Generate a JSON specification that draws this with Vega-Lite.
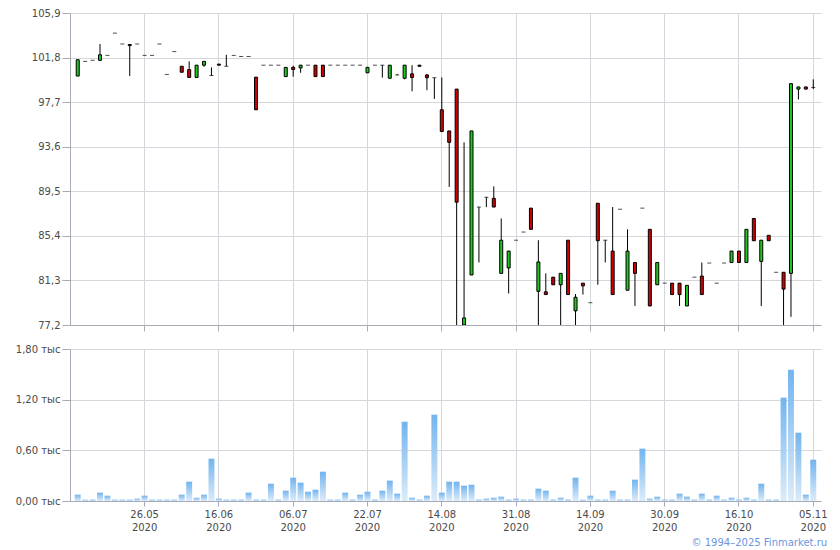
{
  "$schema": "https://vega.github.io/schema/vega-lite/v6.json",
  "background": "white",
  "padding": {"left": 15, "top": 8, "right": 4, "bottom": 2},
  "config": {
    "view": {"stroke": null},
    "axis": {
      "labelFont": "DejaVu Sans",
      "labelFontSize": 10,
      "labelColor": "#4a4a4a",
      "gridColor": "#d3d7db",
      "gridWidth": 1,
      "domainColor": "#a8abb5",
      "tickColor": "#a8abb5",
      "title": null
    }
  },
  "datasets": {
    "q": [
      {"date": "2020-05-13", "o": 100.1, "h": 101.6, "l": 100.1, "c": 101.6, "v": 0.075},
      {"date": "2020-05-14", "o": 101.45, "h": 101.45, "l": 101.45, "c": 101.45, "v": 0.016},
      {"date": "2020-05-15", "o": 101.55, "h": 101.55, "l": 101.55, "c": 101.55, "v": 0.016},
      {"date": "2020-05-18", "o": 101.55, "h": 103.05, "l": 101.55, "c": 102.05, "v": 0.099},
      {"date": "2020-05-19", "o": 102.0, "h": 102.0, "l": 102.0, "c": 102.0, "v": 0.063},
      {"date": "2020-05-20", "o": 104.05, "h": 104.05, "l": 104.05, "c": 104.05, "v": 0.016},
      {"date": "2020-05-21", "o": 103.05, "h": 103.05, "l": 103.05, "c": 103.05, "v": 0.016},
      {"date": "2020-05-22", "o": 103.0, "h": 103.0, "l": 100.1, "c": 102.9, "v": 0.016},
      {"date": "2020-05-25", "o": 103.05, "h": 103.05, "l": 103.05, "c": 103.05, "v": 0.028},
      {"date": "2020-05-26", "o": 102.0, "h": 102.0, "l": 102.0, "c": 102.0, "v": 0.063},
      {"date": "2020-05-27", "o": 102.0, "h": 102.0, "l": 102.0, "c": 102.0, "v": 0.016},
      {"date": "2020-05-28", "o": 103.05, "h": 103.05, "l": 103.05, "c": 103.05, "v": 0.016},
      {"date": "2020-05-29", "o": 100.25, "h": 100.25, "l": 100.25, "c": 100.25, "v": 0.016},
      {"date": "2020-06-01", "o": 102.35, "h": 102.35, "l": 102.35, "c": 102.35, "v": 0.016},
      {"date": "2020-06-03", "o": 101.0, "h": 101.0, "l": 100.45, "c": 100.45, "v": 0.075},
      {"date": "2020-06-04", "o": 100.7, "h": 101.45, "l": 99.97, "c": 99.97, "v": 0.229},
      {"date": "2020-06-08", "o": 99.97, "h": 101.1, "l": 99.97, "c": 101.1, "v": 0.039},
      {"date": "2020-06-10", "o": 101.1, "h": 101.45, "l": 100.95, "c": 101.45, "v": 0.075},
      {"date": "2020-06-15", "o": 100.15, "h": 100.9, "l": 100.15, "c": 100.15, "v": 0.501},
      {"date": "2020-06-16", "o": 101.2, "h": 101.2, "l": 101.1, "c": 101.1, "v": 0.028},
      {"date": "2020-06-17", "o": 101.0, "h": 102.05, "l": 101.0, "c": 101.0, "v": 0.016},
      {"date": "2020-06-18", "o": 102.0, "h": 102.0, "l": 102.0, "c": 102.0, "v": 0.016},
      {"date": "2020-06-19", "o": 101.9, "h": 101.9, "l": 101.9, "c": 101.9, "v": 0.016},
      {"date": "2020-06-22", "o": 101.9, "h": 101.9, "l": 101.9, "c": 101.9, "v": 0.099},
      {"date": "2020-06-23", "o": 100.0, "h": 100.0, "l": 97.0, "c": 97.0, "v": 0.016},
      {"date": "2020-06-25", "o": 101.1, "h": 101.1, "l": 101.1, "c": 101.1, "v": 0.016},
      {"date": "2020-06-26", "o": 101.1, "h": 101.1, "l": 101.1, "c": 101.1, "v": 0.205},
      {"date": "2020-06-29", "o": 101.1, "h": 101.1, "l": 101.1, "c": 101.1, "v": 0.016},
      {"date": "2020-06-30", "o": 100.05, "h": 100.9, "l": 100.05, "c": 100.9, "v": 0.122},
      {"date": "2020-07-06", "o": 100.9, "h": 101.05, "l": 100.05, "c": 100.7, "v": 0.276},
      {"date": "2020-07-07", "o": 100.85, "h": 101.1, "l": 100.4, "c": 101.1, "v": 0.217},
      {"date": "2020-07-08", "o": 101.1, "h": 101.1, "l": 101.1, "c": 101.1, "v": 0.11},
      {"date": "2020-07-09", "o": 101.1, "h": 101.1, "l": 100.05, "c": 100.05, "v": 0.134},
      {"date": "2020-07-10", "o": 101.1, "h": 101.1, "l": 100.05, "c": 100.05, "v": 0.347},
      {"date": "2020-07-13", "o": 101.1, "h": 101.1, "l": 101.1, "c": 101.1, "v": 0.016},
      {"date": "2020-07-14", "o": 101.1, "h": 101.1, "l": 101.1, "c": 101.1, "v": 0.016},
      {"date": "2020-07-15", "o": 101.1, "h": 101.1, "l": 101.1, "c": 101.1, "v": 0.099},
      {"date": "2020-07-17", "o": 101.1, "h": 101.1, "l": 101.1, "c": 101.1, "v": 0.016},
      {"date": "2020-07-20", "o": 101.1, "h": 101.1, "l": 101.1, "c": 101.1, "v": 0.075},
      {"date": "2020-07-22", "o": 100.4, "h": 100.9, "l": 100.4, "c": 100.9, "v": 0.11},
      {"date": "2020-07-23", "o": 101.1, "h": 101.1, "l": 101.1, "c": 101.1, "v": 0.016},
      {"date": "2020-07-27", "o": 101.1, "h": 101.1, "l": 99.95, "c": 101.1, "v": 0.122},
      {"date": "2020-07-29", "o": 99.9, "h": 101.1, "l": 99.9, "c": 101.1, "v": 0.241},
      {"date": "2020-07-31", "o": 100.2, "h": 100.3, "l": 100.2, "c": 100.2, "v": 0.087},
      {"date": "2020-08-04", "o": 99.9, "h": 101.1, "l": 99.8, "c": 101.1, "v": 0.939},
      {"date": "2020-08-06", "o": 100.3, "h": 101.1, "l": 98.7, "c": 99.97, "v": 0.039},
      {"date": "2020-08-10", "o": 101.1, "h": 101.1, "l": 101.0, "c": 101.0, "v": 0.016},
      {"date": "2020-08-12", "o": 100.2, "h": 100.3, "l": 98.8, "c": 99.95, "v": 0.063},
      {"date": "2020-08-13", "o": 99.95, "h": 99.95, "l": 98.0, "c": 99.95, "v": 1.022},
      {"date": "2020-08-14", "o": 97.0, "h": 99.97, "l": 95.0, "c": 95.0, "v": 0.099},
      {"date": "2020-08-17", "o": 95.05, "h": 95.05, "l": 89.9, "c": 94.0, "v": 0.229},
      {"date": "2020-08-18", "o": 98.9, "h": 98.9, "l": 77.2, "c": 88.5, "v": 0.229},
      {"date": "2020-08-19", "o": 77.2, "h": 94.0, "l": 77.2, "c": 77.85, "v": 0.182},
      {"date": "2020-08-20", "o": 81.8, "h": 95.05, "l": 81.8, "c": 95.05, "v": 0.193},
      {"date": "2020-08-21", "o": 88.05, "h": 88.05, "l": 82.95, "c": 88.05, "v": 0.016},
      {"date": "2020-08-24", "o": 88.95, "h": 88.95, "l": 88.05, "c": 88.95, "v": 0.028},
      {"date": "2020-08-25", "o": 88.85, "h": 89.95, "l": 88.05, "c": 88.05, "v": 0.039},
      {"date": "2020-08-26", "o": 81.95, "h": 87.0, "l": 81.95, "c": 85.0, "v": 0.051},
      {"date": "2020-08-28", "o": 82.45, "h": 84.0, "l": 80.1, "c": 84.0, "v": 0.016},
      {"date": "2020-08-31", "o": 85.0, "h": 85.0, "l": 85.0, "c": 85.0, "v": 0.028},
      {"date": "2020-09-01", "o": 85.75, "h": 85.75, "l": 85.75, "c": 85.75, "v": 0.016},
      {"date": "2020-09-02", "o": 87.95, "h": 87.95, "l": 86.0, "c": 86.0, "v": 0.016},
      {"date": "2020-09-03", "o": 80.3, "h": 85.0, "l": 77.2, "c": 83.0, "v": 0.146},
      {"date": "2020-09-04", "o": 80.25, "h": 81.95, "l": 80.0, "c": 80.0, "v": 0.122},
      {"date": "2020-09-07", "o": 81.6, "h": 81.6, "l": 80.9, "c": 80.9, "v": 0.016},
      {"date": "2020-09-08", "o": 80.9, "h": 81.95, "l": 77.2, "c": 81.95, "v": 0.039},
      {"date": "2020-09-09", "o": 85.0, "h": 85.0, "l": 80.0, "c": 80.0, "v": 0.016},
      {"date": "2020-09-10", "o": 78.5, "h": 80.05, "l": 77.2, "c": 79.75, "v": 0.276},
      {"date": "2020-09-11", "o": 81.05, "h": 81.05, "l": 80.0, "c": 80.8, "v": 0.016},
      {"date": "2020-09-14", "o": 79.25, "h": 79.25, "l": 79.25, "c": 79.25, "v": 0.063},
      {"date": "2020-09-15", "o": 88.4, "h": 88.4, "l": 80.9, "c": 84.95, "v": 0.016},
      {"date": "2020-09-16", "o": 85.0, "h": 85.0, "l": 82.95, "c": 85.0, "v": 0.016},
      {"date": "2020-09-17", "o": 84.0, "h": 88.05, "l": 80.0, "c": 80.0, "v": 0.122},
      {"date": "2020-09-18", "o": 87.85, "h": 87.85, "l": 87.85, "c": 87.85, "v": 0.016},
      {"date": "2020-09-21", "o": 80.4, "h": 86.0, "l": 80.4, "c": 84.0, "v": 0.016},
      {"date": "2020-09-22", "o": 82.95, "h": 82.95, "l": 78.95, "c": 81.95, "v": 0.253},
      {"date": "2020-09-24", "o": 87.95, "h": 87.95, "l": 87.95, "c": 87.95, "v": 0.62},
      {"date": "2020-09-25", "o": 86.0, "h": 86.0, "l": 78.95, "c": 78.95, "v": 0.028},
      {"date": "2020-09-28", "o": 80.9, "h": 82.95, "l": 80.9, "c": 82.95, "v": 0.051},
      {"date": "2020-09-30", "o": 81.05, "h": 81.05, "l": 81.05, "c": 81.05, "v": 0.016},
      {"date": "2020-10-01", "o": 81.05, "h": 81.05, "l": 80.0, "c": 80.0, "v": 0.016},
      {"date": "2020-10-02", "o": 81.05, "h": 81.05, "l": 78.95, "c": 80.0, "v": 0.087},
      {"date": "2020-10-05", "o": 78.95, "h": 80.85, "l": 78.95, "c": 80.85, "v": 0.051},
      {"date": "2020-10-06", "o": 81.6, "h": 81.6, "l": 81.6, "c": 81.6, "v": 0.016},
      {"date": "2020-10-07", "o": 81.7, "h": 82.95, "l": 80.0, "c": 80.0, "v": 0.087},
      {"date": "2020-10-08", "o": 82.9, "h": 82.9, "l": 82.9, "c": 82.9, "v": 0.016},
      {"date": "2020-10-12", "o": 81.05, "h": 81.05, "l": 81.05, "c": 81.05, "v": 0.063},
      {"date": "2020-10-13", "o": 82.9, "h": 82.9, "l": 82.9, "c": 82.9, "v": 0.016},
      {"date": "2020-10-15", "o": 82.95, "h": 84.0, "l": 82.95, "c": 84.0, "v": 0.039},
      {"date": "2020-10-16", "o": 84.0, "h": 84.0, "l": 82.95, "c": 82.95, "v": 0.016},
      {"date": "2020-10-19", "o": 82.95, "h": 86.0, "l": 82.95, "c": 86.0, "v": 0.039},
      {"date": "2020-10-20", "o": 87.0, "h": 87.0, "l": 84.95, "c": 84.95, "v": 0.016},
      {"date": "2020-10-22", "o": 83.05, "h": 85.0, "l": 78.95, "c": 85.0, "v": 0.205},
      {"date": "2020-10-23", "o": 85.45, "h": 85.45, "l": 84.95, "c": 84.95, "v": 0.016},
      {"date": "2020-10-26", "o": 82.05, "h": 82.05, "l": 82.05, "c": 82.05, "v": 0.016},
      {"date": "2020-10-27", "o": 82.05, "h": 82.05, "l": 77.2, "c": 80.5, "v": 1.224},
      {"date": "2020-10-29", "o": 81.95, "h": 99.45, "l": 77.95, "c": 99.4, "v": 1.555},
      {"date": "2020-10-30", "o": 98.9, "h": 99.1, "l": 97.95, "c": 99.1, "v": 0.809},
      {"date": "2020-11-03", "o": 99.1, "h": 99.1, "l": 98.9, "c": 98.9, "v": 0.075},
      {"date": "2020-11-05", "o": 99.05, "h": 99.8, "l": 98.9, "c": 99.05, "v": 0.489}
    ]
  },
  "data": {"name": "q"},
  "spacing": 12,
  "title": {
    "text": "© 1994–2025 Finmarket.ru",
    "orient": "bottom",
    "anchor": "end",
    "frame": "bounds",
    "font": "DejaVu Sans",
    "fontSize": 10,
    "fontWeight": "normal",
    "color": "#6b96e0",
    "offset": 6
  },
  "resolve": {"scale": {"x": "shared"}},
  "vconcat": [
    {
      "width": 751,
      "height": 312,
      "encoding": {
        "x": {
          "field": "date",
          "type": "ordinal",
          "scale": {"paddingInner": 0.2, "paddingOuter": 0.64},
          "axis": {
            "values": ["2020-05-26", "2020-06-16", "2020-07-06", "2020-07-22", "2020-08-14", "2020-08-31", "2020-09-14", "2020-09-30", "2020-10-16", "2020-11-05"],
            "bandPosition": 0.5,
            "labels": false,
            "ticks": true,
            "tickSize": 6,
            "grid": true,
            "domain": true
          }
        }
      },
      "layer": [
        {
          "mark": {"type": "rule", "color": "black", "strokeWidth": 1, "clip": true},
          "encoding": {
            "y": {
              "field": "l",
              "type": "quantitative",
              "scale": {"domain": [77.2, 105.9], "nice": false, "zero": false},
              "axis": {
                "values": [77.2, 81.3, 85.4, 89.5, 93.6, 97.7, 101.8, 105.9],
                "labelExpr": "replace(format(datum.value, '.1f'), '.', ',')",
                "tickSize": 8,
                "labelPadding": 2,
                "grid": true,
                "domain": true
              }
            },
            "y2": {"field": "h"}
          }
        },
        {
          "transform": [{"filter": "datum.o != datum.c"}],
          "mark": {"type": "bar", "size": 3, "stroke": "black", "strokeWidth": 1, "clip": true},
          "encoding": {
            "y": {"field": "o", "type": "quantitative"},
            "y2": {"field": "c"},
            "fill": {"condition": {"test": "datum.c > datum.o", "value": "#1fc81f"}, "value": "#d00000"}
          }
        },
        {
          "transform": [{"filter": "datum.o == datum.c"}],
          "mark": {"type": "tick", "color": "black", "thickness": 1, "size": 4, "clip": true},
          "encoding": {
            "y": {"field": "c", "type": "quantitative"}
          }
        }
      ]
    },
    {
      "width": 751,
      "height": 152,
      "mark": {
        "type": "bar",
        "color": {
          "gradient": "linear",
          "x1": 0, "y1": 0, "x2": 0, "y2": 1,
          "stops": [
            {"offset": 0, "color": "#72b4ee"},
            {"offset": 1, "color": "#dcecfa"}
          ]
        }
      },
      "encoding": {
        "x": {
          "field": "date",
          "type": "ordinal",
          "scale": {"paddingInner": 0.2, "paddingOuter": 0.64},
          "axis": {
            "values": ["2020-05-26", "2020-06-16", "2020-07-06", "2020-07-22", "2020-08-14", "2020-08-31", "2020-09-14", "2020-09-30", "2020-10-16", "2020-11-05"],
            "bandPosition": 0.5,
            "labelExpr": "[slice(datum.value, 8, 10) + '.' + slice(datum.value, 5, 7), slice(datum.value, 0, 4)]",
            "labelAngle": 0,
            "labelLineHeight": 13,
            "labelPadding": 3,
            "tickSize": 5,
            "grid": true,
            "domain": true
          }
        },
        "y": {
          "field": "v",
          "type": "quantitative",
          "scale": {"domain": [0, 1.8], "nice": false},
          "axis": {
            "values": [0, 0.6, 1.2, 1.8],
            "labelExpr": "replace(format(datum.value, '.2f'), '.', ',') + ' тыс'",
            "tickSize": 8,
            "labelPadding": 2,
            "grid": true,
            "domain": true
          }
        }
      }
    }
  ]
}
